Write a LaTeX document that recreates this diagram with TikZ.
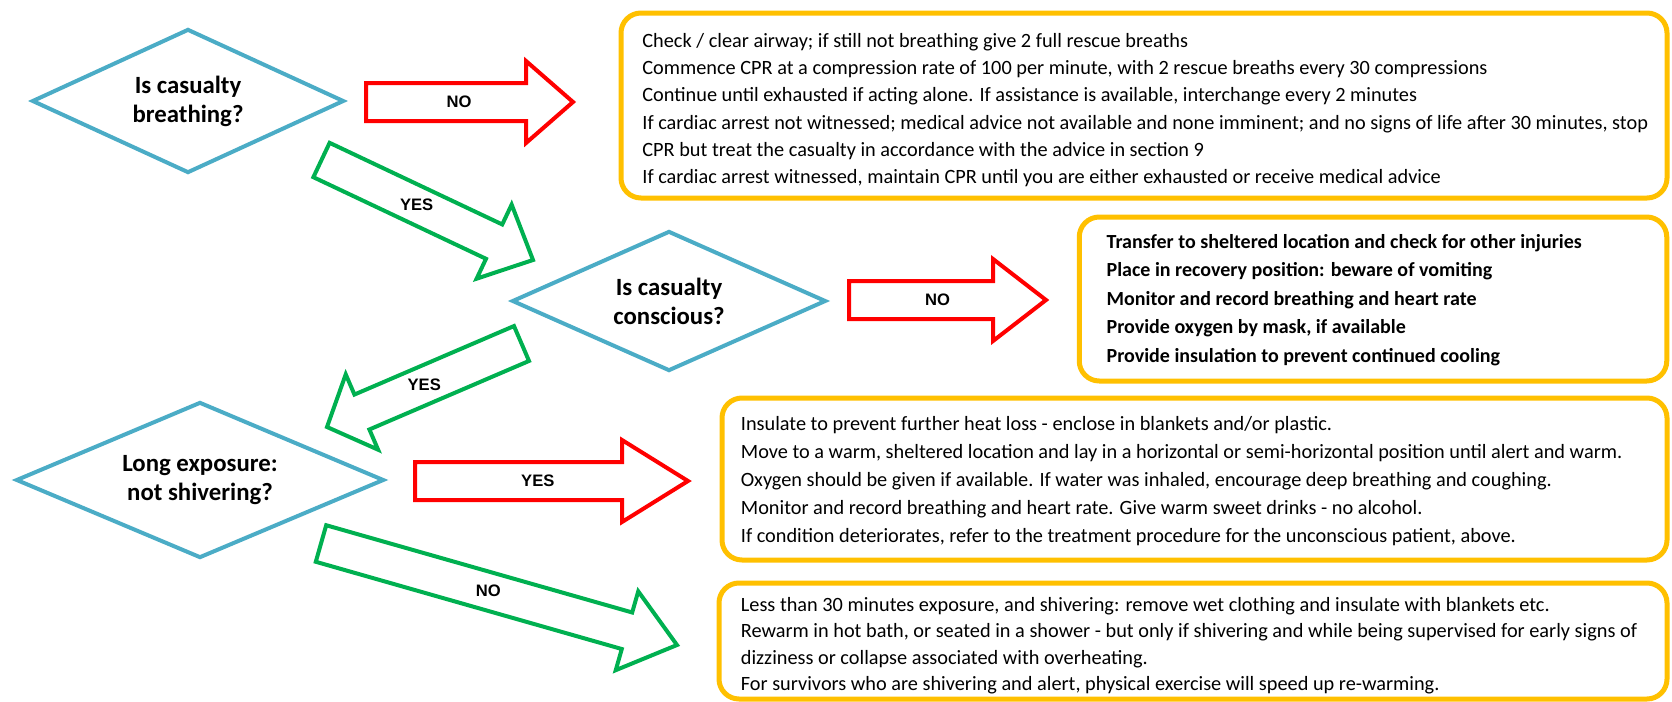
\documentclass[tikz,border=0pt]{standalone}
\usepackage{fontspec}
\setmainfont{Carlito}
\newfontfamily\labelfont{Liberation Sans}
\usetikzlibrary{calc,shapes.geometric}
\definecolor{query}{HTML}{4BACC6}
\definecolor{nogo}{HTML}{FF0000}
\definecolor{go}{HTML}{00B050}
\definecolor{advice}{HTML}{FFC000}
\tikzset{question/.style={diamond,draw=query,line width=2pt,aspect=2.2,inner sep=0pt,align=center,font=\bfseries\fontsize{12.4}{14.5}\selectfont}, infobox/.style={draw=advice,line width=2.5pt,rounded corners=10pt,inner sep=0pt}, boxtext/.style={anchor=west,align=left,inner sep=0pt,font=\fontsize{10.15}{13.6}\selectfont}, redarrow/.style={draw=nogo,line width=2pt}, greenarrow/.style={draw=go,line width=2pt}, arrowlabel/.style={font=\labelfont\bfseries\fontsize{8.3}{10}\selectfont,inner sep=1pt}}
\newcommand{\blockarrow}[4][]{%
 \coordinate (ba-n) at ($(#3)!#4!(#2)$);
 \draw[#1] ($(#2)!9.5pt!90:(#3)$) -- ($(ba-n)!9.5pt!90:(#3)$) -- ($(ba-n)!20.5pt!90:(#3)$) -- (#3) -- ($(ba-n)!20.5pt!-90:(#3)$) -- ($(ba-n)!9.5pt!-90:(#3)$) -- ($(#2)!9.5pt!-90:(#3)$) -- cycle;}

\begin{document}
\begin{tikzpicture}[x=0.5pt,y=-0.5pt]
\useasboundingbox (0,0) rectangle (1672,702);
\node[question,minimum width=156pt,minimum height=72pt] (breathing) at (188,101) {Is casualty\\breathing?};
\node[question,minimum width=157pt,minimum height=70pt] (conscious) at (669,301) {Is casualty\\conscious?};
\node[question,minimum width=184pt,minimum height=78pt] (shivering) at (200,480) {Long exposure:\\not shivering?};
\node[infobox,minimum width=523pt,minimum height=92.5pt] (cpr) at (1144,105.5) {};
\node[boxtext] (cprtext) at ($(cpr.west)+(23.5,4.5)$) {Check / clear airway; if still not breathing give 2 full rescue breaths\\
Commence CPR at a compression rate of 100 per minute, with 2 rescue breaths every 30 compressions\\
Continue until exhausted if acting alone. If assistance is available, interchange every 2 minutes\\
If cardiac arrest not witnessed; medical advice not available and none imminent; and no signs of life after 30 minutes, stop\\
CPR but treat the casualty in accordance with the advice in section 9\\
If cardiac arrest witnessed, maintain CPR until you are either exhausted or receive medical advice};
\node[infobox,minimum width=293.75pt,minimum height=82pt] (recovery) at (1373,299) {};
\node[boxtext,font=\bfseries\fontsize{10}{14.25}\selectfont] (recoverytext) at ($(recovery.west)+(29.5,1)$) {Transfer to sheltered location and check for other injuries\\
Place in recovery position: beware of vomiting\\
Monitor and record breathing and heart rate\\
Provide oxygen by mask, if available\\
Provide insulation to prevent continued cooling};
\node[infobox,minimum width=472.5pt,minimum height=81pt] (insulate) at (1194.5,479) {};
\node[boxtext,font=\fontsize{10.15}{14}\selectfont] (insulatetext) at ($(insulate.west)+(21,2)$) {Insulate to prevent further heat loss - enclose in blankets and/or plastic.\\
Move to a warm, sheltered location and lay in a horizontal or semi-horizontal position until alert and warm.\\
Oxygen should be given if available. If water was inhaled, encourage deep breathing and coughing.\\
Monitor and record breathing and heart rate. Give warm sweet drinks - no alcohol.\\
If condition deteriorates, refer to the treatment procedure for the unconscious patient, above.};
\node[infobox,minimum width=474pt,minimum height=58pt] (rewarm) at (1193,641) {};
\node[boxtext,font=\fontsize{10.15}{13.2}\selectfont] (rewarmtext) at ($(rewarm.west)+(24,4.5)$) {Less than 30 minutes exposure, and shivering: remove wet clothing and insulate with blankets etc.\\
Rewarm in hot bath, or seated in a shower - but only if shivering and while being supervised for early signs of\\
dizziness or collapse associated with overheating.\\
For survivors who are shivering and alert, physical exercise will speed up re-warming.};
\coordinate (bNoT) at (366,102); \coordinate (bNoH) at (573,102);
\coordinate (bYesT) at (321.5,160); \coordinate (bYesH) at (533,260);
\coordinate (cNoT) at (849,300); \coordinate (cNoH) at (1046,300);
\coordinate (cYesT) at (521.5,343.5); \coordinate (cYesH) at (327,427);
\coordinate (sYesT) at (415,481); \coordinate (sYesH) at (688,481);
\coordinate (sNoT) at (321,543.5); \coordinate (sNoH) at (677,645);
\blockarrow[redarrow]{bNoT}{bNoH}{23.5pt}
\blockarrow[greenarrow]{bYesT}{bYesH}{21.5pt}
\blockarrow[redarrow]{cNoT}{cNoH}{26.5pt}
\blockarrow[greenarrow]{cYesT}{cYesH}{19pt}
\blockarrow[redarrow]{sYesT}{sYesH}{33pt}
\blockarrow[greenarrow]{sNoT}{sNoH}{26pt}
\node[arrowlabel] (bNo) at ($(bNoT)!.45!(bNoH)$) {NO};
\node[arrowlabel] (bYes) at ($(bYesT)!.45!(bYesH)$) {YES};
\node[arrowlabel] (cNo) at ($(cNoT)!.45!(cNoH)$) {NO};
\node[arrowlabel] (cYes) at ($(cYesT)!.5!(cYesH)$) {YES};
\node[arrowlabel] (sYes) at ($(sYesT)!.45!(sYesH)$) {YES};
\node[arrowlabel] (sNo) at ($(sNoT)!.47!(sNoH)$) {NO};
\end{tikzpicture}
\end{document}
